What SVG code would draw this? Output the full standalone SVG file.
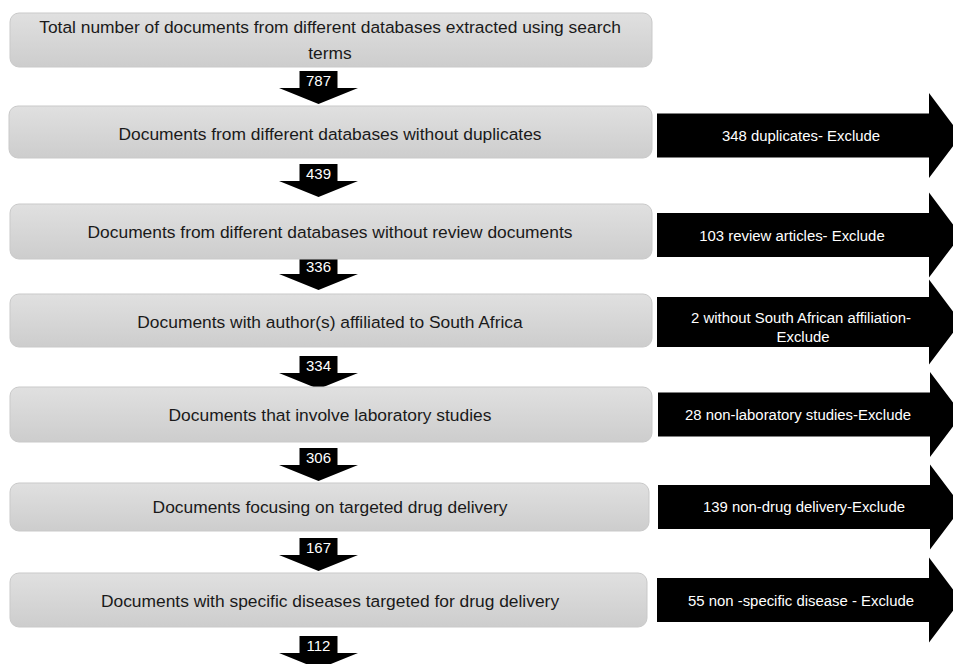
<svg xmlns="http://www.w3.org/2000/svg" width="953" height="664" viewBox="0 0 953 664">
  <style>
    .box { fill: url(#gboxg); stroke: #c9c9c9; stroke-width: 1; }
    .bt { font-family: "Liberation Sans", Arial, sans-serif; font-size: 17.4px; fill: #1a1a1a; text-anchor: middle; }
    .at { font-family: "Liberation Sans", Arial, sans-serif; font-size: 14.9px; fill: #ffffff; text-anchor: middle; }
    .nt { font-family: "Liberation Sans", Arial, sans-serif; font-size: 15px; fill: #ffffff; text-anchor: middle; }
    .blk { fill: #000000; }
  </style>
  <defs>
    <linearGradient id="gboxg" x1="0" y1="0" x2="0" y2="1">
      <stop offset="0" stop-color="#e0e0e0"/>
      <stop offset="1" stop-color="#cdcdcd"/>
    </linearGradient>
    <path id="down" d="M-19,0 H19 V17 H39.5 L0,33 L-39.5,17 H-19 Z"/>
    <path id="right" d="M0,-22 H272 V-42.5 L304,0 L272,42.5 V22 H0 Z"/>
  </defs>
  <rect width="953" height="664" fill="#ffffff"/>

  <g id="connectors">
    <g id="c1"><use href="#down" class="blk" x="318.5" y="71"/><text class="nt" x="318.5" y="86">787</text></g>
    <g id="c2"><use href="#down" class="blk" x="318.5" y="164"/><text class="nt" x="318.5" y="179">439</text></g>
    <g id="c3"><use href="#down" class="blk" x="318.5" y="257"/><text class="nt" x="318.5" y="272">336</text></g>
    <g id="c4"><use href="#down" class="blk" x="318.5" y="356"/><text class="nt" x="318.5" y="371">334</text></g>
    <g id="c5"><use href="#down" class="blk" x="318.5" y="448"/><text class="nt" x="318.5" y="463">306</text></g>
    <g id="c6"><use href="#down" class="blk" x="318.5" y="538"/><text class="nt" x="318.5" y="553">167</text></g>
    <g id="c7"><use href="#down" class="blk" x="318.5" y="636"/><text class="nt" x="318.5" y="651">112</text></g>
  </g>

  <g id="n1"><rect class="box" x="10" y="13" width="642" height="54" rx="9"/>
    <text class="bt" x="330" y="33">Total number of documents from different databases extracted using search</text>
    <text class="bt" x="330" y="59">terms</text></g>
  <g id="n2"><rect class="box" x="9" y="106" width="643" height="52" rx="9"/>
    <text class="bt" x="330" y="140">Documents from different databases without duplicates</text></g>
  <g id="n3"><rect class="box" x="10" y="204" width="642" height="55" rx="9"/>
    <text class="bt" x="330" y="238">Documents from different databases without review documents</text></g>
  <g id="n4"><rect class="box" x="10" y="294" width="642" height="53" rx="9"/>
    <text class="bt" x="330" y="328">Documents with author(s) affiliated to South Africa</text></g>
  <g id="n5"><rect class="box" x="10" y="387" width="642" height="55" rx="9"/>
    <text class="bt" x="330" y="421">Documents that involve laboratory studies</text></g>
  <g id="n6"><rect class="box" x="10" y="483" width="639" height="48" rx="9"/>
    <text class="bt" x="330" y="513">Documents focusing on targeted drug delivery</text></g>
  <g id="n7"><rect class="box" x="10" y="573" width="637" height="54" rx="9"/>
    <text class="bt" x="330" y="607">Documents with specific diseases targeted for drug delivery</text></g>

  <g id="x1"><use href="#right" class="blk" x="657" y="135.5"/>
    <text class="at" x="801" y="141">348 duplicates- Exclude</text></g>
  <g id="x2"><use href="#right" class="blk" x="657" y="235"/>
    <text class="at" x="792" y="241">103 review articles- Exclude</text></g>
  <g id="x3"><use href="#right" class="blk" x="657" y="322"/>
    <rect x="657" y="297" width="272" height="50" class="blk"/>
    <text class="at" x="801" y="323">2 without South African affiliation-</text>
    <text class="at" x="803" y="342">Exclude</text></g>
  <g id="x4"><use href="#right" class="blk" x="658" y="414.5"/>
    <text class="at" x="798" y="420">28 non-laboratory studies-Exclude</text></g>
  <g id="x5"><use href="#right" class="blk" x="658" y="507"/>
    <text class="at" x="804" y="512">139 non-drug delivery-Exclude</text></g>
  <g id="x6"><use href="#right" class="blk" x="657" y="600"/>
    <text class="at" x="801" y="606">55 non -specific disease - Exclude</text></g>
</svg>
